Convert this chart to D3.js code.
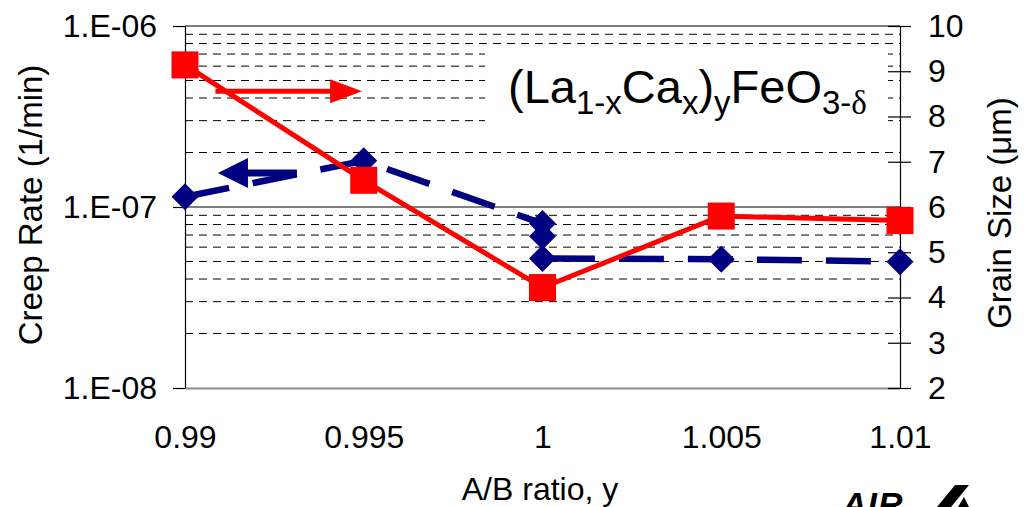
<!DOCTYPE html>
<html>
<head>
<meta charset="utf-8">
<script src="https://cdn.jsdelivr.net/npm/d3@7"></script>
<style>
  body { margin: 0; background: #fff; }
  svg { display: block; }
  text { font-family: "Liberation Sans", Arial, sans-serif; fill: #000; }
</style>
</head>
<body>
<div id="chart"></div>
<script>
// values
const xTicks = [0.99, 0.995, 1, 1.005, 1.01];
const leftTicks = [1e-8, 1e-7, 1e-6];
const rightTicks = [2, 3, 4, 5, 6, 7, 8, 9, 10];

// grain size (right axis, red squares)
const grainX = [0.99, 0.995, 1, 1.005, 1.01];
const grainSize = [9.14, 6.59, 4.22, 5.80, 5.70];

// creep rate (left log axis, navy diamonds) - three measurements at y = 1
const creepX = [0.99, 0.995, 1, 1, 1, 1.005, 1.01];
const creepRate = [1.14e-7, 1.80e-7, 8.1e-8, 6.9e-8, 5.2e-8, 5.15e-8, 4.99e-8];

const width = 1026, height = 507;
const plot = { left: 185, right: 900, top: 26, bottom: 388 };
const RED = "#ff0000", NAVY = "#000080";

let svg = d3.select("#chart")
    .append("svg")
    .attr("width", width)
    .attr("height", height);

// scales
let x = d3.scaleLinear().domain([0.99, 1.01]).range([plot.left, plot.right]);
let yLeft = d3.scaleLog().domain([1e-8, 1e-6]).range([plot.bottom, plot.top]);
let yRight = d3.scaleLinear().domain([2, 10]).range([plot.bottom, plot.top]);

// minor dashed gridlines (2..9 of each decade)
let minor = [];
[1e-8, 1e-7].forEach(function(dec) {
    d3.range(2, 10).forEach(function(m) { minor.push(dec * m); });
});
svg.append("g").selectAll("line").data(minor).enter()
    .append("line")
    .attr("x1", plot.left).attr("x2", plot.right)
    .attr("y1", function(d) { return yLeft(d); })
    .attr("y2", function(d) { return yLeft(d); })
    .attr("stroke", "#000")
    .attr("stroke-width", 1)
    .attr("stroke-dasharray", "8,6");

// white box behind the formula hides part of the grid
svg.append("rect")
    .attr("x", 485).attr("y", 48)
    .attr("width", 403).attr("height", 88)
    .attr("fill", "#fff");

// solid decade lines
svg.append("g").selectAll("line").data([1e-7, 1e-6]).enter()
    .append("line")
    .attr("x1", plot.left).attr("x2", plot.right)
    .attr("y1", function(d) { return yLeft(d); })
    .attr("y2", function(d) { return yLeft(d); })
    .attr("stroke", "#000")
    .attr("stroke-width", 1.2);

// bottom axis (labels only, gray base line)
let xAxis = svg.append("g")
    .attr("transform", `translate(0, ${plot.bottom})`)
    .call(d3.axisBottom(x).tickValues(xTicks).tickSize(0).tickPadding(37)
        .tickFormat(function(d) { return d3.format("")(+d.toFixed(3)); }));
xAxis.select(".domain").attr("stroke", "#8a8a8a").attr("stroke-width", 2);
xAxis.selectAll("text").style("font-size", "32px").attr("fill", "#000");

// left axis
let leftAxis = svg.append("g")
    .attr("transform", `translate(${plot.left}, 0)`)
    .call(d3.axisLeft(yLeft).tickValues(leftTicks).tickSize(12).tickSizeOuter(0).tickPadding(16)
        .tickFormat(function(d) { return "1.E-0" + Math.round(-Math.log10(d)); }));
leftAxis.select(".domain").attr("stroke", "#000").attr("stroke-width", 1.2);
leftAxis.selectAll(".tick line").attr("stroke", "#000").attr("stroke-width", 1.2);
leftAxis.selectAll("text").style("font-size", "32px").attr("fill", "#000");

// right axis, ticks cross the axis line
let rightAxis = svg.append("g")
    .attr("transform", `translate(${plot.right}, 0)`)
    .call(d3.axisRight(yRight).tickValues(rightTicks).tickSize(11).tickSizeOuter(0).tickPadding(17));
rightAxis.select(".domain").attr("stroke", "#000").attr("stroke-width", 1.2);
rightAxis.selectAll(".tick line").attr("x1", -12).attr("stroke", "#000").attr("stroke-width", 1.2);
rightAxis.selectAll("text").style("font-size", "32px").attr("fill", "#000");

// creep rate series: long-dash navy line + diamonds
let creepData = creepX.map(function(v, i) { return [v, creepRate[i]]; });
svg.append("path")
    .datum(creepData)
    .attr("fill", "none")
    .attr("stroke", NAVY)
    .attr("stroke-width", 6.5)
    .attr("stroke-dasharray", "45,24")
    .attr("d", d3.line()
        .x(function(d) { return x(d[0]); })
        .y(function(d) { return yLeft(d[1]); }));

svg.append("g").selectAll("path").data(creepData).enter()
    .append("path")
    .attr("transform", function(d) { return `translate(${x(d[0])}, ${yLeft(d[1])})`; })
    .attr("d", "M0,-13.5L13.5,0L0,13.5L-13.5,0Z")
    .attr("fill", NAVY);

// grain size series: solid red line + squares
let grainData = grainX.map(function(v, i) { return [v, grainSize[i]]; });
svg.append("path")
    .datum(grainData)
    .attr("fill", "none")
    .attr("stroke", RED)
    .attr("stroke-width", 5)
    .attr("d", d3.line()
        .x(function(d) { return x(d[0]); })
        .y(function(d) { return yRight(d[1]); }));

svg.append("g").selectAll("rect").data(grainData).enter()
    .append("rect")
    .attr("x", function(d) { return x(d[0]) - 13.5; })
    .attr("y", function(d) { return yRight(d[1]) - 13.5; })
    .attr("width", 27).attr("height", 27)
    .attr("fill", RED);

// arrows telling which axis each series belongs to
const redArrow = { from: 0.99085, base: 0.99406, tip: 0.99495, level: 8.56 };
let ra = yRight(redArrow.level);
svg.append("line")
    .attr("x1", x(redArrow.from)).attr("x2", x(redArrow.base) + 2)
    .attr("y1", ra).attr("y2", ra)
    .attr("stroke", RED).attr("stroke-width", 5);
svg.append("path")
    .attr("d", `M${x(redArrow.base)},${ra - 12}L${x(redArrow.tip)},${ra}L${x(redArrow.base)},${ra + 12}Z`)
    .attr("fill", RED);

const blueArrow = { tip: 0.99092, base: 0.99176, to: 0.99313, level: 1.54e-7 };
let ba = yLeft(blueArrow.level);
svg.append("line")
    .attr("x1", x(blueArrow.base) - 2).attr("x2", x(blueArrow.to))
    .attr("y1", ba).attr("y2", ba)
    .attr("stroke", NAVY).attr("stroke-width", 7);
svg.append("path")
    .attr("d", `M${x(blueArrow.base)},${ba - 15}L${x(blueArrow.tip)},${ba}L${x(blueArrow.base)},${ba + 15}Z`)
    .attr("fill", NAVY);

// formula label
let formula = svg.append("text")
    .attr("x", 508).attr("y", 103)
    .style("font-size", "47px");
const SUB = 11;
formula.append("tspan").text("(La");
formula.append("tspan").attr("dy", SUB).style("font-size", "33px").text("1-x");
formula.append("tspan").attr("dy", -SUB).text("Ca");
formula.append("tspan").attr("dy", SUB).style("font-size", "33px").text("x");
formula.append("tspan").attr("dy", -SUB).text(")");
formula.append("tspan").attr("dy", SUB).style("font-size", "33px").text("y");
formula.append("tspan").attr("dy", -SUB).text("FeO");
formula.append("tspan").attr("dy", SUB).style("font-size", "33px").text("3-");
formula.append("tspan").style("font-size", "33px")
    .style("font-family", "'Liberation Serif', 'Times New Roman', serif").text("δ");

// axis titles
svg.append("text")
    .attr("transform", "translate(42, 205) rotate(-90)")
    .style("text-anchor", "middle")
    .style("font-size", "33px")
    .text("Creep Rate (1/min)");

svg.append("text")
    .attr("transform", "translate(1011, 213) rotate(-90)")
    .style("text-anchor", "middle")
    .style("font-size", "33px")
    .text("Grain Size (μm)");

svg.append("text")
    .attr("x", 540).attr("y", 500)
    .style("text-anchor", "middle")
    .style("font-size", "32px")
    .text("A/B ratio, y");

// logo fragment at the bottom right, cut by the frame edge as in the original
svg.append("text")
    .attr("x", 842).attr("y", 516)
    .style("font-size", "34px")
    .style("font-weight", "bold")
    .style("font-style", "italic")
    .style("letter-spacing", "1px")
    .text("AIR");
svg.append("path")
    .attr("d", "M937,507L955,485L969,485L951,507Z")
    .attr("fill", "#000");
svg.append("path")
    .attr("d", "M958,507L964,497L969,507Z")
    .attr("fill", "#000");
</script>
</body>
</html>
